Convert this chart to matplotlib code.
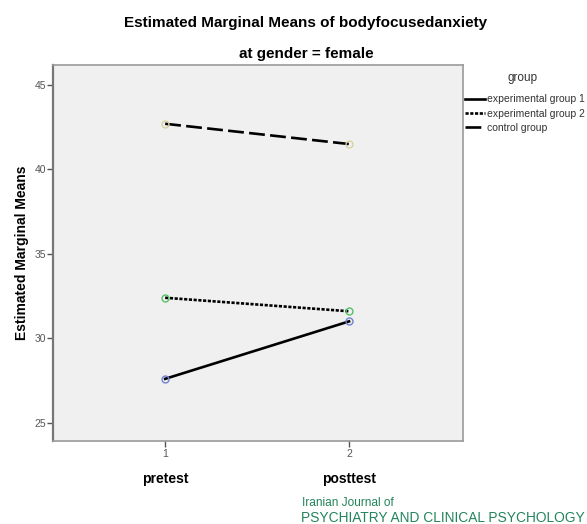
import matplotlib.pyplot as plt
from matplotlib.transforms import blended_transform_factory

plt.rcParams['font.family'] = ['Liberation Sans', 'DejaVu Sans']

# Estimated marginal means (female), pretest / posttest
times = [1, 2]
time_names = ['pretest', 'posttest']
exp1 = [27.6, 31.0]
exp2 = [32.4, 31.6]
control = [42.7, 41.5]

groups = ['experimental group 1', 'experimental group 2', 'control group']
means = [exp1, exp2, control]
styles = ['-', (0, (1.2, 0.6)), (0, (6, 2))]
marker_colors = ['#6f82d2', '#55c267', '#d8d2a2']

fig = plt.figure(figsize=(5.87, 5.24), dpi=100)
ax = fig.add_axes([0.0903, 0.1584, 0.6985, 0.7176])
ax.set_facecolor('#f0f0f0')

for name, vals, ls, mc in zip(groups, means, styles, marker_colors):
    ax.plot(times, vals, color='black', linestyle=ls, linewidth=1.9,
            marker='o', markersize=5, markerfacecolor='none',
            markeredgecolor=mc, markeredgewidth=1.0, label=name)

ax.set_xlim(0.39, 2.62)
ax.set_ylim(23.92, 46.18)
ax.set_xticks(times)
ax.set_yticks([25, 30, 35, 40, 45])
ax.tick_params(axis='both', direction='out', length=4, width=1,
               colors='#555555', labelsize=7.5)
ax.tick_params(axis='y', pad=1)
ax.tick_params(axis='x', pad=2)
for side in ['top', 'right', 'bottom']:
    ax.spines[side].set_color('#9a9a9a')
    ax.spines[side].set_linewidth(1.2)
ax.spines['left'].set_color('#777777')
ax.spines['left'].set_linewidth(1.6)

# time labels under the tick numbers
trans = blended_transform_factory(ax.transData, ax.transAxes)
for t, lab in zip(times, time_names):
    ax.text(t, -0.10, lab, transform=trans, ha='center', va='center',
            fontsize=10, fontweight='bold')

ax.set_ylabel('Estimated Marginal Means', fontsize=10, fontweight='bold')
ax.yaxis.set_label_coords(-0.058, 0.5)

fig.text(0.521, 0.956, 'Estimated Marginal Means of bodyfocusedanxiety',
         ha='center', va='center', fontsize=11, fontweight='bold')
fig.text(0.521, 0.897, 'at gender = female', ha='center', va='center',
         fontsize=11, fontweight='bold')

# legend without the markers, title drawn separately
fig.text(0.891, 0.851, 'group', ha='center', va='center', fontsize=8.5,
         color='#333333')
leg_lines = [plt.Line2D([], [], color='black', linestyle=s, linewidth=1.9)
             for s in styles]
leg = fig.legend(leg_lines, groups, loc='upper left',
                 bbox_to_anchor=(0.792, 0.820), frameon=False, fontsize=7.5,
                 handlelength=1.9, handletextpad=0.25,
                 labelspacing=0.42, borderpad=0, borderaxespad=0)
for txt in leg.get_texts():
    txt.set_color('#333333')

fig.text(0.515, 0.040, 'Iranian Journal of', color='#23855a', fontsize=8.6,
         ha='left', va='center')
fig.text(0.513, 0.011, 'PSYCHIATRY AND CLINICAL PSYCHOLOGY', color='#23855a',
         fontsize=9.9, ha='left', va='center')

fig.savefig('out.png', dpi=100)
